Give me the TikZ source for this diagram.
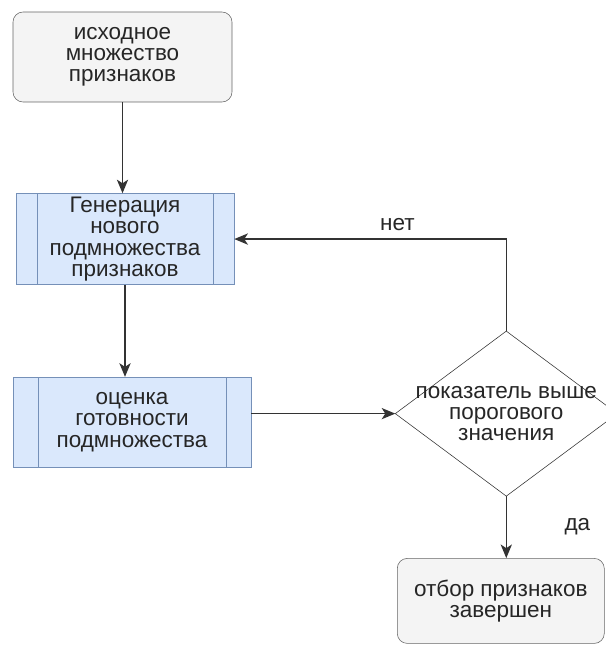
\documentclass[tikz,border=0pt]{standalone}
\usepackage{fontspec}
\setmainfont{Liberation Sans}
\usetikzlibrary{shapes.geometric,arrows.meta,positioning}
\definecolor{termGray}{HTML}{F4F4F4}
\definecolor{termLine}{HTML}{666666}
\definecolor{procBlue}{HTML}{DAE8FC}
\definecolor{procLine}{HTML}{7590B8}
\definecolor{flowLine}{HTML}{333333}

\begin{document}
\begin{tikzpicture}[
    font=\fontsize{16}{15}\selectfont, text=black!85,
    term/.style={rectangle, draw=termLine, fill=termGray, rounded corners=0.25cm,
                 minimum width=5.475cm, minimum height=2.25cm,
                 align=center, inner sep=0pt},
    proc/.style={rectangle, draw=procLine, fill=procBlue, minimum height=2.25cm,
                 align=center, inner sep=0pt,
                 path picture={\draw[procLine]
                   ([xshift=#1]path picture bounding box.north west) --
                   ([xshift=#1]path picture bounding box.south west)
                   ([xshift=-#1]path picture bounding box.north east) --
                   ([xshift=-#1]path picture bounding box.south east);}},
    test/.style={diamond, draw=flowLine, minimum width=5.55cm,
                 minimum height=4.125cm, inner sep=0pt, outer sep=0pt},
    arrow/.style={-{Stealth[length=3.4mm, width=2.8mm, inset=0.9mm]},
                  draw=flowLine, line width=1.1pt},
]
    \useasboundingbox (0,0) rectangle (15.125,-16.15);
    \node[term] (start) at (3.0625,-1.425) {исходное\\множество\\признаков};
    \node[proc=0.525cm, minimum width=5.45cm, minimum height=2.275cm,
          below=2.275cm of start, xshift=0.0625cm]
         (gen) {Генерация\\нового\\подмножества\\признаков};
    \node[proc=0.625cm, minimum width=5.95cm, below=2.3cm of gen, xshift=0.175cm]
         (eval) {оценка\\готовности\\подмножества};
    \node[test, right=3.6cm of eval, yshift=0.2125cm,
          label={[align=center]center:показатель выше\\порогового\\значения}]
         (dec) {};
    \node[term, minimum width=5.175cm, minimum height=2.125cm,
          below=1.55cm of dec, xshift=-0.1375cm]
         (done) {отбор признаков\\завершен};
    \draw[arrow] (start.south) -- (start.south |- gen.north);
    \draw[arrow] (gen.south) -- (gen.south |- eval.north);
    \draw[arrow] (eval.east |- dec.west) -- (dec.west);
    \draw[arrow] (dec.north) |- node[pos=0.7, above=2pt] (nolbl) {нет} (gen.east);
    \draw[arrow] (dec.south) -- node[right=1.32cm] (yeslbl) {да}
         (dec.south |- done.north);
\end{tikzpicture}
\end{document}
